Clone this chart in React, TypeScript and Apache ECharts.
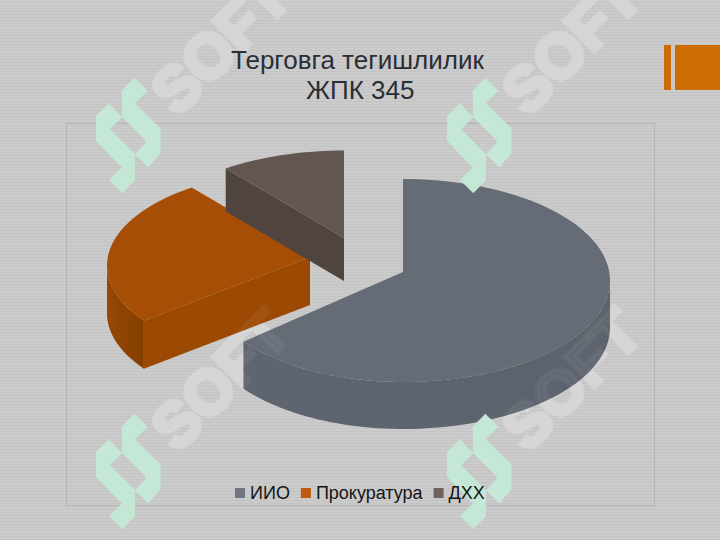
import React, { useEffect, useRef } from "react";
import * as echarts from "echarts";

const categories = ["ИИО", "Прокуратура", "ДХХ"];
const shares = [64.7, 25.4, 9.9];
const titleLines = ["Терговга тегишлилик", "ЖПК 345"];
const watermarkWord = "SOFT";

const FONT = '"Liberation Sans", Arial, sans-serif';
const topColors = ["#656c76", "#a64e05", "#635650"];
const wallColors = [
  ["#5c636d", "#5e6570"],
  ["#833f00", "#974702"],
  ["#50443f", "#50443f"],
];
const cutColors = ["#5d6570", "#9c4903", "#50443f"];
const legendColors = ["#70757f", "#c05a10", "#6f625d"];

// projected geometry of each exploded slice
const sliceCenters = [
  [403, 272],
  [310, 257],
  [344, 238],
];
const sliceRadiiRight = [207, 203, 203];
const sliceRadiiLeft = [200, 203, 203];
const sliceRadiiY = [101.5, 96, 96];
const startWarp = [0, (2 * Math.PI) / 180, 0];
const RIM_SHIFT = 8.5;
const DEPTHS = [47, 48, 43];

const LOGO_A = [[95,47],[133,8],[173,47],[135,85],[212,160],[212,235],[175,278],[135,238],[170,200],[97,127]];
const LOGO_B = [[97,127],[57,85],[18,122],[18,198],[95,278],[57,315],[97,355],[135,315],[135,237],[60,163]];
const logoOrigins = [[90,75],[441,75],[90,411],[441,411]];
const wordOrigins = [[162,102],[513,102],[162,438],[513,438]];

function renderSlice(index: number) {
  const total = shares.reduce((a, b) => a + b, 0);
  let start = 0;
  for (let i = 0; i < index; i++) start += (shares[i] / total) * 2 * Math.PI;
  const end = start + (shares[index] / total) * 2 * Math.PI;
  const [cx, cy] = sliceCenters[index];
  const depth = DEPTHS[index];
  const rim = (t0: number): number[] => {
    const t = t0 + (startWarp[index] * (end - t0)) / (end - start);
    const s = Math.sin(t);
    return [
      cx + (s > 0 ? sliceRadiiRight[index] : sliceRadiiLeft[index]) * s,
      cy + RIM_SHIFT - sliceRadiiY[index] * Math.cos(t),
    ];
  };
  const sample = (a: number, b: number): number[][] => {
    const n = Math.max(2, Math.ceil(((b - a) * 180) / Math.PI / 2));
    const out: number[][] = [];
    for (let i = 0; i <= n; i++) out.push(rim(a + ((b - a) * i) / n));
    return out;
  };
  const down = (p: number[]) => [p[0], p[1] + depth];
  const children: any[] = [];

  // outer wall: only the part facing the viewer
  const wa = Math.max(start, Math.PI / 2);
  const wb = Math.min(end, (3 * Math.PI) / 2);
  if (wb > wa) {
    const top = sample(wa, wb);
    const bottom = top.map(down).reverse();
    children.push({
      type: "polygon",
      shape: { points: [...top, ...bottom] },
      style: {
        fill: new echarts.graphic.LinearGradient(1, 0, 0, 0, [
          { offset: 0, color: wallColors[index][0] },
          { offset: 1, color: wallColors[index][1] },
        ]),
      },
    });
  }
  // cut faces
  const apex = [cx, cy];
  const face = (t: number) => {
    const p = rim(t);
    children.push({
      type: "polygon",
      shape: { points: [apex, p, down(p), down(apex)] },
      style: { fill: cutColors[index] },
    });
  };
  if (Math.sin(start) < -0.01) face(start);
  if (Math.sin(end) > 0.01) face(end);
  // top face
  children.push({
    type: "polygon",
    shape: { points: [apex, ...sample(start, end)] },
    style: { fill: topColors[index] },
  });
  return { type: "group", children };
}

export default function App() {
  const ref = useRef<HTMLDivElement>(null);
  useEffect(() => {
    const chart = echarts.init(ref.current!, undefined, { renderer: "svg" });
    const logos: any[] = [];
    logoOrigins.forEach(([x, y]) => {
      [LOGO_A, LOGO_B].forEach((pts) => {
        logos.push({
          type: "polygon",
          x,
          y,
          scaleX: 1 / 3,
          scaleY: 1 / 3,
          z: 3,
          silent: true,
          shape: { points: pts },
          style: { fill: "#c4e7d6" },
        });
      });
    });
    const word = (x: number, y: number, z: number, fill: string) => ({
      type: "text",
      x,
      y,
      rotation: Math.PI / 4,
      z,
      silent: true,
      style: {
        text: watermarkWord,
        fontFamily: FONT,
        fontSize: 62,
        fontWeight: "bold",
        fill,
        stroke: fill,
        lineWidth: 5,
        textAlign: "left",
        textVerticalAlign: "middle",
      },
    });
    const words: any[] = [];
    wordOrigins.forEach(([x, y]) => {
      words.push(word(x, y, 1, "#d4d4d4"));
      words.push(word(x, y, 5, "rgba(255,255,255,0.04)"));
    });
    chart.setOption({
      animation: false,
      backgroundColor: "transparent",
      title: [
        {
          text: titleLines[0],
          left: 226,
          top: 42,
          textStyle: { fontFamily: FONT, fontSize: 26, fontWeight: "normal", color: "#2a2e35" },
        },
        {
          text: titleLines[1],
          left: 301,
          top: 72,
          textStyle: { fontFamily: FONT, fontSize: 26, fontWeight: "normal", color: "#2a2e35" },
        },
      ],
      legend: {
        left: 230,
        top: 479,
        icon: "rect",
        itemWidth: 10,
        itemHeight: 10,
        itemGap: 11,
        textStyle: { fontFamily: FONT, fontSize: 18, color: "#141414" },
        data: categories.map((name, i) => ({ name, itemStyle: { color: legendColors[i] } })),
      },
      graphic: [
        {
          type: "rect",
          z: 0,
          silent: true,
          shape: { x: 66.5, y: 123.5, width: 588, height: 382 },
          style: { fill: "transparent", stroke: "#b4b4b4", lineWidth: 1 },
        },
        {
          type: "rect",
          z: 0,
          silent: true,
          shape: { x: 664, y: 45, width: 7, height: 45 },
          style: { fill: "#cb6d04" },
        },
        {
          type: "rect",
          z: 0,
          silent: true,
          shape: { x: 675, y: 45, width: 45, height: 45 },
          style: { fill: "#cb6d04" },
        },
        ...words,
        ...logos,
      ],
      series: categories.map((name, i) => ({
        type: "custom",
        name,
        coordinateSystem: "none",
        silent: true,
        itemStyle: { color: topColors[i] },
        data: [shares[i]],
        renderItem: () => renderSlice(i),
      })),
    });
    return () => chart.dispose();
  }, []);
  return (
    <div
      style={{
        position: "absolute",
        left: 0,
        top: 0,
        width: 720,
        height: 540,
        background: "repeating-linear-gradient(180deg, #cbcbcb 0px, #cbcbcb 2px, #c4c4c4 2px, #c4c4c4 3px)",
      }}
    >
      <div ref={ref} style={{ width: 720, height: 540 }} />
    </div>
  );
}
